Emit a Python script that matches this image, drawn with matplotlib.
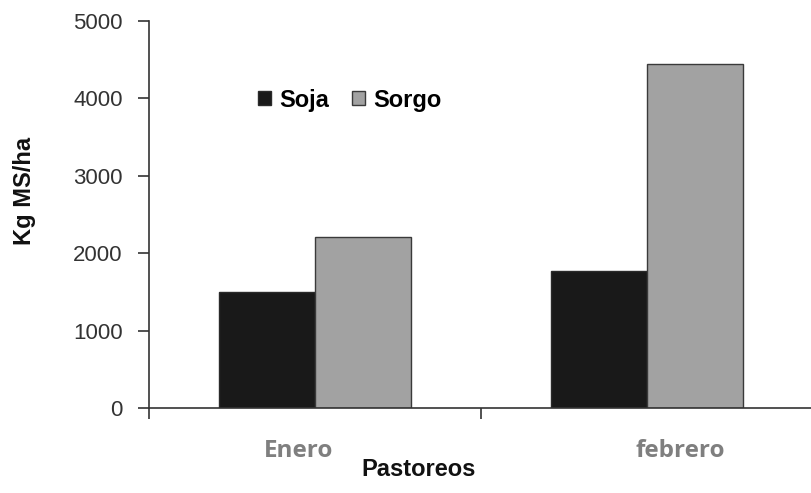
import numpy as np
import matplotlib
matplotlib.use("Agg")
import matplotlib.pyplot as plt

# forage yield per grazing period
periodos = ["Enero", "febrero"]
soja = [1500, 1770]
sorgo = [2210, 4440]
y_ticks = [0, 1000, 2000, 3000, 4000, 5000]

fig = plt.figure(figsize=(8.11, 4.93), dpi=100)
ax = fig.add_axes([149 / 811, 85 / 493, 664 / 811, 387 / 493])

x = np.arange(len(periodos))
w = 0.288
ax.bar(x - w / 2, soja, w, color="#191919", edgecolor="#2a2a2a", linewidth=1, label="Soja")
ax.bar(x + w / 2, sorgo, w, color="#a2a2a2", edgecolor="#3a3a3a", linewidth=1, label="Sorgo")

ax.set_xlim(-0.5, 1.5)
ax.set_ylim(0, 5000)

for s in ["top", "right"]:
    ax.spines[s].set_visible(False)
for s in ["left", "bottom"]:
    ax.spines[s].set_color("#333333")
    ax.spines[s].set_linewidth(1.2)

# y axis
ax.set_yticks(y_ticks)
ax.set_yticklabels([str(v) for v in y_ticks], family="Liberation Sans",
                   fontsize=16, color="#333333")
ax.tick_params(axis="y", direction="out", length=8, width=1.2, color="#333333", pad=11)

# x axis: ticks on category boundaries, labels set apart on minor ticks
ax.set_xticks([-0.5, 0.5, 1.5])
ax.set_xticklabels([])
ax.tick_params(axis="x", which="major", direction="out", length=8, width=1.2, color="#333333")
ax.set_xticks([-0.049, 1.099], minor=True)
ax.set_xticklabels(periodos, minor=True, family="Open Sans", fontweight="bold",
                   fontsize=17.5, color="#7f7f7f")
ax.tick_params(axis="x", which="minor", length=0, pad=22)

ax.set_xlabel("Pastoreos", family="Liberation Sans", fontweight="bold", fontsize=17,
              color="#111111")
ax.xaxis.set_label_coords(0.406, -0.128)
ax.set_ylabel("Kg MS/ha", family="Liberation Sans", fontweight="bold", fontsize=17,
              color="#111111")
ax.yaxis.set_label_coords(-0.17, 0.56)

ax.legend(loc="center", bbox_to_anchor=(350 / 811, 1 - 100 / 493),
          bbox_transform=fig.transFigure, ncol=2, frameon=False,
          handlelength=0.55, handleheight=0.55, handletextpad=0.35,
          columnspacing=0.95, borderpad=0,
          prop={"family": "Liberation Sans", "weight": "bold", "size": 17})

fig.savefig("out.png", dpi=100)
